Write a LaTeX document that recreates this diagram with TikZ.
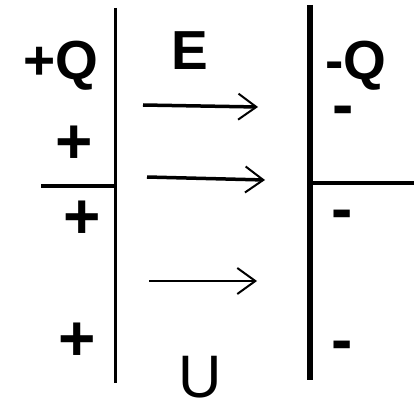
\documentclass[tikz,border=0pt]{standalone}
\usepackage{fontspec}
\setmainfont{Liberation Sans}
\usetikzlibrary{arrows.meta}

\begin{document}
\begin{tikzpicture}[x=1pt, y=-1pt, every node/.style={inner sep=0pt},
    charge/.style={font=\fontsize{55}{55}\selectfont\bfseries},
    sign/.style={font=\fontsize{64}{64}\selectfont\bfseries},
    fieldarrow/.style={line width=3.5pt, -{Straight Barb[length=18pt,width=26pt,line width=2pt]}}]
    \useasboundingbox (0,0) rectangle (414,398);
    % plates
    \draw[line width=3pt](115,8)--(115,383);
    \draw[line width=5.5pt](310,5)--(310,380);
    \draw[line width=4.5pt](41,186)--(116,186);
    \draw[line width=4.5pt](308,183)--(414,183);
    % labels
    \node[charge, anchor=base](qplus)at (61,80){+Q};
    \node[charge, anchor=base](qminus)at (356,80){-Q};
    \node[charge, anchor=base](field)at (190,70){E};
    \node[font=\fontsize{60}{60}\selectfont, anchor=base](pot)at (200,397){U};
    \node[sign](p1)at (74,145){+};
    \node[sign](p2)at (82,220){+};
    \node[sign](p3)at (77,342){+};
    \node[sign](m1)at (343,116){-};
    \node[sign](m2)at (342,220){-};
    \node[sign](m3)at (342,351){-};
    % field lines
    \coordinate(a1)at (143,105);
    \coordinate(b1)at (258,107);
    \coordinate(a2)at (147,177);
    \coordinate(b2)at (265,180);
    \coordinate(a3)at (149,281);
    \coordinate(b3)at (257,281);
    \draw[fieldarrow](a1)--(b1);
    \draw[fieldarrow](a2)--(b2);
    \draw[fieldarrow, line width=2.5pt](a3)--(b3);
\end{tikzpicture}
\end{document}
